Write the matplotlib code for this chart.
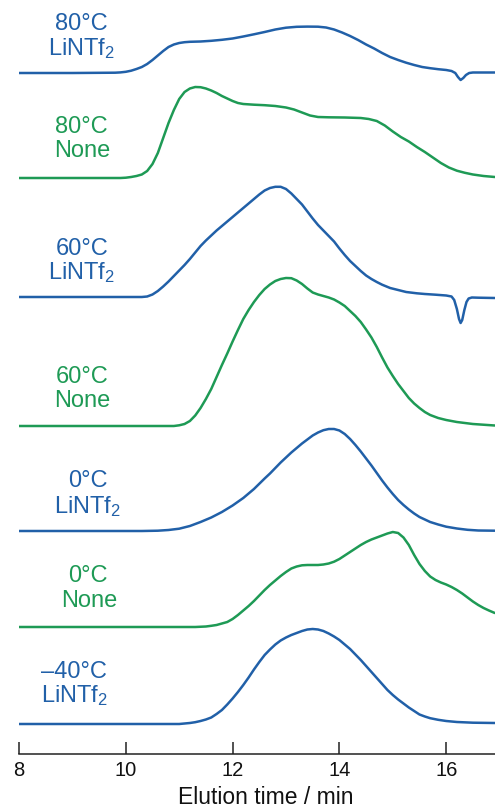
import matplotlib
matplotlib.use("Agg")
import matplotlib.pyplot as plt

plt.rcParams['font.family'] = ['Liberation Sans', 'DejaVu Sans']
plt.rcParams['mathtext.fontset'] = 'custom'
plt.rcParams['mathtext.rm'] = 'Liberation Sans'

BLUE = '#2160a8'
GREEN = '#1e9a55'

# ---- data: elution time (min) and detector response (arb. units) ----
t_80_li = [8.0, 9.0, 9.8, 9.9, 10.0, 10.1, 10.2, 10.3, 10.4, 10.5, 10.6, 10.7, 10.8, 10.9, 11.0,
           11.1, 11.2, 11.4, 11.6, 11.8, 12.0, 12.2, 12.4, 12.6, 12.8, 13.0, 13.2, 13.4, 13.6,
           13.75, 13.9, 14.05, 14.2, 14.35, 14.5, 14.65, 14.8, 14.95, 15.1, 15.25, 15.4, 15.55,
           15.7, 15.85, 16.0, 16.1, 16.17, 16.22, 16.27, 16.32, 16.37, 16.43, 16.5, 16.91]
y_80_li = [0, 0, 0.3, 0.6, 1.2, 2.3, 4, 6, 9, 13, 17.5, 22, 26, 28.5, 30, 30.8, 31.2, 31.5, 32.2,
           33.2, 34.5, 36.5, 38.7, 41, 43.5, 45.3, 46.2, 46.4, 46.3, 45.5, 43.5, 40.5, 37, 33,
           28.5, 24.5, 20, 16, 13, 10.3, 8, 6, 4.8, 3.8, 3, 2, 0, -4, -7, -5, -2, 0, 0.5, 0.5]

t_80_none = [8.0, 9.9, 10.0, 10.1, 10.2, 10.3, 10.4, 10.5, 10.6, 10.7, 10.8, 10.9, 11.0, 11.1,
             11.2, 11.3, 11.4, 11.5, 11.6, 11.7, 11.8, 11.9, 12.0, 12.1, 12.2, 12.4, 12.6, 12.8,
             13.0, 13.15, 13.3, 13.45, 13.6, 13.8, 14.1, 14.4, 14.55, 14.7, 14.85, 15.0, 15.15,
             15.3, 15.45, 15.6, 15.75, 15.9, 16.05, 16.2, 16.35, 16.5, 16.7, 16.91]
y_80_none = [0, 0, 0.3, 1, 2, 3.5, 7, 14, 25, 40, 55, 68, 79, 86, 89.5, 91, 90.8, 89.5, 87.5, 85,
             82, 79.5, 77, 75, 74, 73.3, 72.8, 72, 70.5, 68.5, 65.5, 62.5, 61, 60.7, 60.5, 60, 59,
             57, 52.5, 46.5, 41, 36.5, 31, 26, 20.5, 15, 10.5, 7.3, 5.2, 3.5, 2, 1]

t_60_li = [8.0, 10.3, 10.4, 10.5, 10.6, 10.7, 10.8, 10.9, 11.0, 11.1, 11.2, 11.3, 11.4, 11.5, 11.6,
           11.7, 11.8, 11.9, 12.0, 12.1, 12.2, 12.3, 12.4, 12.5, 12.6, 12.7, 12.8, 12.9, 13.0, 13.1,
           13.2, 13.3, 13.4, 13.5, 13.6, 13.7, 13.8, 13.9, 14.0, 14.1, 14.2, 14.3, 14.4, 14.5,
           14.6, 14.7, 14.8, 14.95, 15.1, 15.25, 15.45, 15.6, 15.8, 16.0, 16.1, 16.15, 16.2, 16.24,
           16.27, 16.3, 16.34, 16.38, 16.42, 16.48, 16.6, 16.91]
y_60_li = [0, 0, 0.5, 2.5, 6, 10.5, 15.5, 21, 26.5, 32, 38, 44.5, 51, 56.5, 61.5, 66.5, 71, 75.5,
           80, 84.5, 89, 93.5, 98, 102.5, 106.5, 109, 110.2, 110.2, 108, 103.5, 98, 92.5, 85.5,
           78.5, 72, 66.5, 61, 55.5, 48.5, 42, 36, 31, 26, 21.5, 18, 15, 12.3, 9, 7, 5, 3.7, 3,
           2.3, 1.5, 0.5, -3, -12, -22, -26, -23, -13, -5, -1.5, -0.5, -0.7, -1]

t_60_none = [8.0, 10.9, 11.0, 11.1, 11.2, 11.3, 11.4, 11.5, 11.6, 11.7, 11.8, 11.9, 12.0, 12.1,
             12.2, 12.3, 12.4, 12.5, 12.6, 12.7, 12.8, 12.9, 13.0, 13.1, 13.2, 13.3, 13.4, 13.5,
             13.6, 13.7, 13.8, 13.9, 14.0, 14.1, 14.2, 14.3, 14.4, 14.5, 14.6, 14.7, 14.8, 14.9,
             15.0, 15.1, 15.2, 15.3, 15.4, 15.5, 15.6, 15.7, 15.85, 16.0, 16.2, 16.5, 16.91]
y_60_none = [0, 0, 0.7, 2, 5, 10.5, 18, 27, 37, 49, 61, 72.5, 84.5, 96, 107, 116, 124, 131, 137,
             141.5, 145, 147, 148, 147.8, 145.5, 142, 137.5, 133.5, 131.5, 130, 128.5, 126.5,
             123.5, 120, 115, 110, 104, 96.5, 88.5, 79, 68.5, 58.5, 50, 42, 35, 28, 22.5, 18, 14,
             11, 8, 6, 4, 2, 0.5]

t_0_li = [8.0, 10.3, 10.6, 10.8, 11.0, 11.2, 11.4, 11.6, 11.8, 12.0, 12.2, 12.4, 12.6, 12.7, 12.8,
          12.9, 13.0, 13.1, 13.2, 13.3, 13.4, 13.5, 13.6, 13.7, 13.8, 13.9, 14.0, 14.1, 14.2, 14.3,
          14.4, 14.5, 14.6, 14.7, 14.8, 14.9, 15.0, 15.1, 15.2, 15.3, 15.4, 15.5, 15.6, 15.7,
          15.85, 16.0, 16.2, 16.4, 16.6, 16.91]
y_0_li = [0, 0, 0.3, 1, 2.3, 5, 9, 13.5, 19, 25.5, 33, 42, 52.5, 57.5, 63, 68.5, 73.5, 78.5, 83,
          87.5, 91.5, 95.5, 98.5, 100.8, 102, 102, 100.5, 97, 92, 86, 79.5, 72.5, 65.5, 58, 50.5,
          43.5, 37, 31, 26, 21.5, 17.5, 14, 11.5, 9, 6.5, 4.3, 2.5, 1.2, 0.5, 0.3]

t_0_none = [8.0, 11.3, 11.5, 11.6, 11.7, 11.8, 11.9, 12.0, 12.1, 12.2, 12.3, 12.4, 12.5, 12.6, 12.7,
            12.8, 12.9, 13.0, 13.1, 13.2, 13.3, 13.4, 13.5, 13.6, 13.7, 13.8, 13.9, 14.0, 14.1,
            14.2, 14.3, 14.4, 14.5, 14.6, 14.7, 14.8, 14.9, 15.0, 15.1, 15.2, 15.3, 15.4, 15.5,
            15.6, 15.7, 15.8, 15.9, 16.0, 16.1, 16.2, 16.3, 16.4, 16.5, 16.6, 16.7, 16.8, 16.91]
y_0_none = [0, 0, 0.5, 1.2, 2, 3.5, 5, 8, 12, 16.5, 21, 26, 31.5, 37, 42, 46.5, 51, 55, 58.5, 60.5,
            61.7, 62, 62, 62, 62.5, 63.5, 65.3, 68, 71.5, 75, 78.5, 82, 85, 87.5, 89.5, 91.5,
            93.5, 95, 94, 89.5, 82, 72, 63, 56, 50.5, 47, 44.5, 42.5, 40, 37, 33.5, 29.5, 25.5,
            22, 19, 16.5, 14]

t_m40_li = [8.0, 11.0, 11.1, 11.2, 11.3, 11.4, 11.5, 11.6, 11.7, 11.8, 11.9, 12.0, 12.1, 12.2, 12.3,
            12.4, 12.5, 12.6, 12.7, 12.8, 12.9, 13.0, 13.1, 13.2, 13.3, 13.4, 13.5, 13.6, 13.7,
            13.8, 13.9, 14.0, 14.1, 14.2, 14.3, 14.4, 14.5, 14.6, 14.7, 14.8, 14.9, 15.0, 15.1,
            15.2, 15.3, 15.4, 15.5, 15.6, 15.7, 15.85, 16.0, 16.2, 16.5, 16.91]
y_m40_li = [0, 0, 0.5, 1, 1.8, 3, 4.5, 6.5, 10, 14, 19.5, 25.5, 32, 39, 46.5, 54.5, 62, 69, 74.5,
            79.5, 83.5, 86.5, 89, 91, 93, 94.5, 95, 94.5, 93, 90.5, 87.5, 84, 79.5, 75, 69.5, 64,
            58, 52, 46, 40, 34, 29, 24.5, 20.5, 16.5, 13, 9.5, 7.5, 5.8, 4.2, 3, 2, 1.3, 1]

times = [t_80_li, t_80_none, t_60_li, t_60_none, t_0_li, t_0_none, t_m40_li]
signals = [y_80_li, y_80_none, y_60_li, y_60_none, y_0_li, y_0_none, y_m40_li]
temps = ['80°C', '80°C', '60°C', '60°C', '0°C', '0°C', '\u201340°C']
salts = ['LiNTf$\\mathregular{_2}$', 'None', 'LiNTf$\\mathregular{_2}$', 'None',
         'LiNTf$\\mathregular{_2}$', 'None', 'LiNTf$\\mathregular{_2}$']
colors = [BLUE, GREEN, BLUE, GREEN, BLUE, GREEN, BLUE]
x_ticks = [8, 10, 12, 14, 16]

# ---- layout ----
W, H = 495, 809
fig = plt.figure(figsize=(W / 100, H / 100), dpi=100)
ax_bottom_px = 754
ax = fig.add_axes([19 / W, (H - ax_bottom_px) / H, 1 - 19 / W, ax_bottom_px / H])

offsets = [681, 576, 457, 328, 223, 127, 30]
for t, s, c, off in zip(times, signals, colors, offsets):
    ax.plot(t, [v + off for v in s], color=c, lw=1.8, solid_joinstyle='round',
            solid_capstyle='round')

ax.set_xlim(8, 8 + 476 / 53.4)
ax.set_ylim(0, ax_bottom_px)
for sp in ['top', 'right', 'left']:
    ax.spines[sp].set_visible(False)
ax.spines['bottom'].set_linewidth(1.1)
ax.spines['bottom'].set_color('#222222')
ax.set_yticks([])
ax.set_xticks(x_ticks)
ax.tick_params(axis='x', direction='in', length=8.5, width=1.1, color='#222222',
               labelsize=14.5, pad=5, labelcolor='#111111')
ax.set_xlabel('Elution time / min', fontsize=16.5, color='#111111')
ax.xaxis.set_label_coords((266 - 19) / 476, (754 - 786) / 754)
ax.set_facecolor('none')

# left labels (pixel positions of each text line centre)
label_pos = [((81.5, 24), (82, 49)), ((81.5, 127), (82, 151)), ((82, 249), (82, 273)),
             ((82, 377), (82, 401)), ((88, 481), (88, 507)), ((88, 576), (89, 601)),
             ((74, 672), (75, 696))]
for temp, salt, c, (p1, p2) in zip(temps, salts, colors, label_pos):
    fig.text(p1[0] / W, 1 - p1[1] / H, temp, color=c, fontsize=17, ha='center', va='center')
    fig.text(p2[0] / W, 1 - p2[1] / H, salt, color=c, fontsize=17, ha='center', va='center')

fig.savefig('out.png', dpi=100)
